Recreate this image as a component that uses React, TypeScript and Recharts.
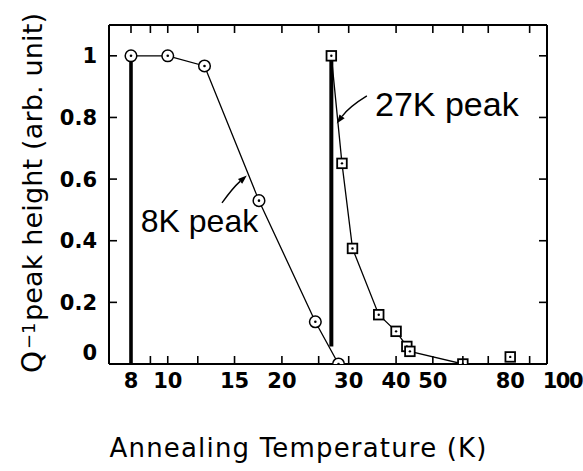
import { ComposedChart, Line, XAxis, YAxis, ReferenceDot, ReferenceLine } from "recharts";

// 8K peak (circles)
const peak8KTemp = [8, 10, 12.5, 17.4, 24.5, 28.2];
const peak8KHeight = [1.0, 1.0, 0.967, 0.53, 0.137, 0];

// 27K peak (squares)
const peak27KTemp = [27, 28.8, 30.7, 36, 40, 42.7, 43.5, 60];
const peak27KHeight = [1.0, 0.651, 0.375, 0.16, 0.106, 0.057, 0.041, 0];
const lone27KTemp = [80];
const lone27KHeight = [0.023];

// thick vertical drops at the peak temperatures
const drop8KTemp = [8, 8];
const drop8KHeight = [0, 1];
const drop27KTemp = [27, 27];
const drop27KHeight = [0.057, 1];

const xTicks = [8, 9, 10, 12, 15, 20, 25, 30, 40, 50, 60, 70, 80, 90, 100];
const xTickLabels = [8, 10, 15, 20, 30, 40, 50, 80, 100];
const xNoMark = [80, 100];
const yTicks = [0, 0.2, 0.4, 0.6, 0.8, 1];

const toPoints = (ts: number[], qs: number[]) => ts.map((t, i) => ({ t, q: qs[i] }));

const tickFont = { fontFamily: "DejaVu Sans", fontWeight: 700, fontSize: 21, fill: "#000" };
const titleFont = { fontFamily: "DejaVu Sans", fill: "#000" };
const noteFont = { fontFamily: "Liberation Sans", fill: "#000" };

function CircleDot(props: any) {
  const { cx, cy, index } = props;
  if (cx == null || cy == null) return <g key={index} />;
  return (
    <g key={index}>
      <circle cx={cx} cy={cy} r={5.8} fill="#fff" stroke="#000" strokeWidth={1.5} />
      <circle cx={cx} cy={cy} r={1.3} fill="#000" />
    </g>
  );
}

function SquareDot(props: any) {
  const { cx, cy, index } = props;
  if (cx == null || cy == null) return <g key={index} />;
  return (
    <g key={index}>
      <rect x={cx - 4.8} y={cy - 4.8} width={9.6} height={9.6} fill="#fff" stroke="#000" strokeWidth={1.8} />
      <circle cx={cx} cy={cy} r={1.2} fill="#000" />
    </g>
  );
}

function BottomTick({ x, y, payload }: any) {
  const v = payload.value;
  const last = v === 100;
  return (
    <g>
      {!xNoMark.includes(v) && <line x1={x} x2={x} y1={y} y2={y - 8} stroke="#000" strokeWidth={1.6} />}
      {xTickLabels.includes(v) && (
        <text
          x={last ? x + 35 : x}
          y={y + 24}
          textAnchor={last ? "end" : "middle"}
          letterSpacing={last ? -1.5 : 0}
          {...tickFont}
        >
          {v}
        </text>
      )}
    </g>
  );
}

function TopTick({ x, y, payload }: any) {
  if (xNoMark.includes(payload.value)) return <g />;
  return <line x1={x} x2={x} y1={y} y2={y + 8} stroke="#000" strokeWidth={1.6} />;
}

function LeftTick({ x, y, payload }: any) {
  const v = payload.value;
  return (
    <g>
      <line x1={x} x2={x + 8} y1={y} y2={y} stroke="#000" strokeWidth={1.6} />
      <text x={x - 12} y={v === 0 ? y - 12 : y} dy="0.36em" textAnchor="end" {...tickFont}>
        {v}
      </text>
    </g>
  );
}

function RightTick({ x, y }: any) {
  return <line x1={x} x2={x - 8} y1={y} y2={y} stroke="#000" strokeWidth={1.6} />;
}

function YTitle() {
  return (
    <g {...titleFont}>
      <text x={42} y={373} transform="rotate(-90, 42, 373)" fontSize={28}>
        Q
      </text>
      <text x={35} y={349} transform="rotate(-90, 35, 349)" fontSize={18}>
        −1
      </text>
      <text
        x={42}
        y={321}
        transform="rotate(-90, 42, 321)"
        fontSize={27}
        textLength={308}
        lengthAdjust="spacing"
      >
        peak height (arb. unit)
      </text>
    </g>
  );
}

function XTitle({ viewBox }: any) {
  const x = viewBox.x + viewBox.width / 2 - 30;
  const y = viewBox.y + 93;
  return (
    <text x={x} y={y} textAnchor="middle" textLength={377} lengthAdjust="spacing" fontSize={26} {...titleFont}>
      Annealing Temperature (K)
    </text>
  );
}

function Note({ cx, cy, text, size }: any) {
  return (
    <text x={cx} y={cy} fontSize={size} {...noteFont}>
      {text}
    </text>
  );
}

function CurvedArrow({ x1, y1, x2, y2, bend }: any) {
  const dx = x2 - x1;
  const dy = y2 - y1;
  const len = Math.hypot(dx, dy) || 1;
  const cx = (x1 + x2) / 2 + (-dy / len) * bend;
  const cy = (y1 + y2) / 2 + (dx / len) * bend;
  const ax = x2 - cx;
  const ay = y2 - cy;
  const al = Math.hypot(ax, ay) || 1;
  const ux = ax / al;
  const uy = ay / al;
  const headLen = 9;
  const headW = 3.2;
  const bx = x2 - ux * headLen;
  const by = y2 - uy * headLen;
  return (
    <g>
      <path d={`M${x1},${y1} Q${cx},${cy} ${bx},${by}`} fill="none" stroke="#000" strokeWidth={1.4} />
      <path
        d={`M${x2},${y2} L${bx - uy * headW},${by + ux * headW} L${bx + uy * headW},${by - ux * headW} Z`}
        fill="#000"
      />
    </g>
  );
}

export default function App() {
  return (
    <div style={{ position: "absolute", left: 0, top: 0, width: 583, height: 471, background: "#fff" }}>
      <ComposedChart width={583} height={471} margin={{ top: 0, right: 0, bottom: 0, left: 0 }}>
        <XAxis
          xAxisId="bottom"
          dataKey="t"
          type="number"
          scale="log"
          domain={[7, 100]}
          allowDataOverflow
          ticks={xTicks}
          interval={0}
          height={107}
          tickSize={0}
          tickMargin={0}
          tickLine={false}
          axisLine={{ stroke: "#000", strokeWidth: 2 }}
          tick={<BottomTick />}
          label={<XTitle />}
        />
        <XAxis
          xAxisId="top"
          orientation="top"
          dataKey="t"
          type="number"
          scale="log"
          domain={[7, 100]}
          allowDataOverflow
          ticks={xTicks}
          interval={0}
          height={25}
          tickSize={0}
          tickMargin={0}
          tickLine={false}
          axisLine={{ stroke: "#000", strokeWidth: 2 }}
          tick={<TopTick />}
        />
        <YAxis
          yAxisId="left"
          type="number"
          domain={[0, 1.1]}
          allowDataOverflow
          ticks={yTicks}
          interval={0}
          width={109}
          tickSize={0}
          tickMargin={0}
          tickLine={false}
          axisLine={{ stroke: "#000", strokeWidth: 2 }}
          tick={<LeftTick />}
          label={<YTitle />}
        />
        <YAxis
          yAxisId="right"
          orientation="right"
          type="number"
          domain={[0, 1.1]}
          allowDataOverflow
          ticks={yTicks}
          interval={0}
          width={36}
          tickSize={0}
          tickMargin={0}
          tickLine={false}
          axisLine={{ stroke: "#000", strokeWidth: 2 }}
          tick={<RightTick />}
        />

        <Line
          xAxisId="bottom"
          yAxisId="left"
          data={toPoints(drop8KTemp, drop8KHeight)}
          dataKey="q"
          stroke="#000"
          strokeWidth={3.6}
          dot={false}
          isAnimationActive={false}
        />
        <Line
          xAxisId="bottom"
          yAxisId="left"
          data={toPoints(drop27KTemp, drop27KHeight)}
          dataKey="q"
          stroke="#000"
          strokeWidth={4}
          dot={false}
          isAnimationActive={false}
        />
        <Line
          xAxisId="bottom"
          yAxisId="left"
          data={toPoints(peak8KTemp, peak8KHeight)}
          dataKey="q"
          stroke="#000"
          strokeWidth={1.3}
          dot={(p: any) => <CircleDot {...p} key={p.index} />}
          isAnimationActive={false}
        />
        <Line
          xAxisId="bottom"
          yAxisId="left"
          data={toPoints(peak27KTemp, peak27KHeight)}
          dataKey="q"
          stroke="#000"
          strokeWidth={1.3}
          dot={(p: any) => <SquareDot {...p} key={p.index} />}
          isAnimationActive={false}
        />
        <Line
          xAxisId="bottom"
          yAxisId="left"
          data={toPoints(lone27KTemp, lone27KHeight)}
          dataKey="q"
          stroke="none"
          dot={(p: any) => <SquareDot {...p} key={p.index} />}
          isAnimationActive={false}
        />

        <ReferenceLine
          xAxisId="bottom"
          yAxisId="left"
          segment={[{ x: 13.9, y: 0.523 }, { x: 16.16, y: 0.612 }]}
          shape={(p: any) => <CurvedArrow {...p} bend={-2} />}
        />
        <ReferenceLine
          xAxisId="bottom"
          yAxisId="left"
          segment={[{ x: 33.5, y: 0.87 }, { x: 27.9, y: 0.78 }]}
          shape={(p: any) => <CurvedArrow {...p} bend={4} />}
        />
        <ReferenceDot
          xAxisId="bottom"
          yAxisId="left"
          x={8.49}
          y={0.427}
          r={0}
          shape={(p: any) => <Note {...p} text="8K peak" size={32} />}
        />
        <ReferenceDot
          xAxisId="bottom"
          yAxisId="left"
          x={35.2}
          y={0.805}
          r={0}
          shape={(p: any) => <Note {...p} text="27K peak" size={34} />}
        />
      </ComposedChart>
    </div>
  );
}
